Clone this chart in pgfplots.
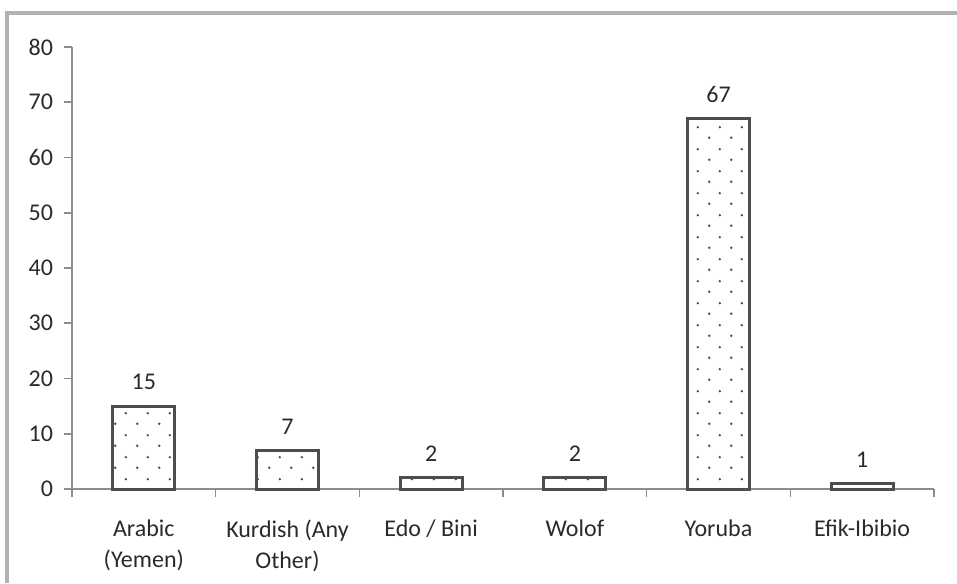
\documentclass[border=0pt]{standalone}
\usepackage{pgfplots}
\pgfplotsset{compat=1.18}
\usepackage{fontspec}
\setmainfont{Carlito}
\usetikzlibrary{patterns}
\pgfdeclarepatternformonly{sparsedots}{\pgfpointorigin}{\pgfpoint{11pt}{11pt}}{\pgfpoint{11pt}{11pt}}{
  \pgfpathcircle{\pgfpoint{2.75pt}{2.75pt}}{0.7pt}
  \pgfpathcircle{\pgfpoint{8.25pt}{8.25pt}}{0.7pt}
  \pgfusepath{fill}}
\definecolor{axgray}{HTML}{8C8C8C}
\definecolor{bargray}{HTML}{4D4D4D}
\definecolor{txt}{HTML}{2A2A2A}
\begin{document}
\begin{tikzpicture}
\useasboundingbox (-36pt,-47pt) rectangle (442.5pt,244.5pt);
\draw[line width=1.6pt, color=gray!60] (-32.5pt,-47pt) -- (-32.5pt,238pt) -- (442.5pt,238pt);
\begin{axis}[
  at={(0pt,0pt)}, anchor=south west,
  scale only axis, width=431pt, height=221pt,
  xmin=-0.5, xmax=5.5, ymin=0, ymax=80,
  axis lines=left, axis line style={-, color=axgray, line width=0.8pt},
  ytick={0,10,...,80},
  xtick={0,...,5},
  xticklabels={{Arabic\\(Yemen)},{Kurdish (Any\\Other)},{Edo / Bini},{Wolof},{Yoruba},{Efik-Ibibio}},
  minor xtick={-0.5,0.5,...,5.5},
  major x tick style={draw=none},
  minor x tick style={color=axgray, line width=0.8pt},
  y tick style={color=axgray, line width=0.8pt},
  tick align=outside,
  major tick length=4pt, minor tick length=4pt,
  xticklabel style={align=center, font=\fontsize{12}{15.5}\selectfont, text=txt, yshift=-8pt},
  yticklabel style={font=\fontsize{12}{13}\selectfont, text=txt, xshift=-2pt},
  /pgf/number format/assume math mode=true,
  ybar, bar width=31pt,
  nodes near coords,
  every node near coord/.append style={font=\fontsize{12}{13}\selectfont, text=txt, yshift=4pt},
  clip=false,
]
\addplot[draw=bargray, line width=1.5pt, pattern=sparsedots, pattern color=bargray]
  coordinates {(0,15) (1,7) (2,2) (3,2) (4,67) (5,1)};
\end{axis}
\end{tikzpicture}
\end{document}
